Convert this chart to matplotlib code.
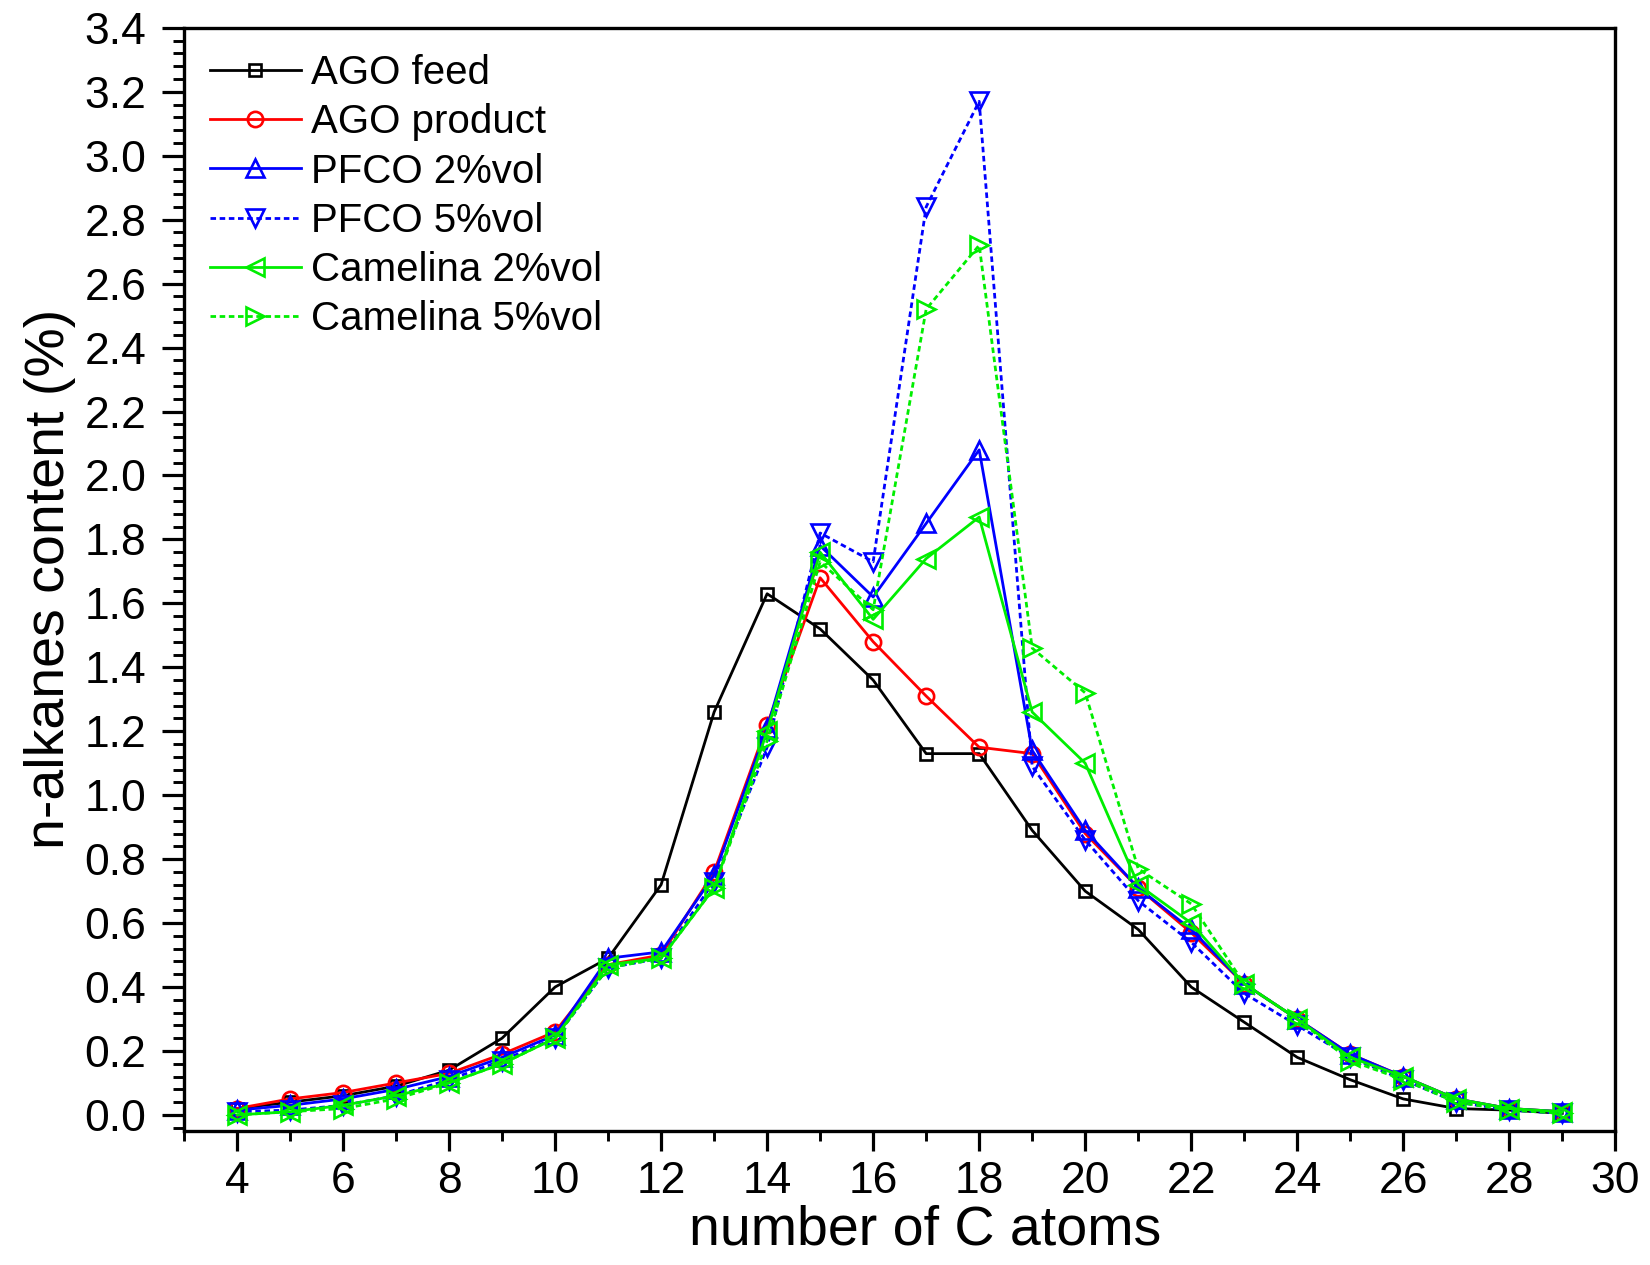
import matplotlib
matplotlib.use("Agg")
import matplotlib.pyplot as plt
from matplotlib.ticker import MultipleLocator, FormatStrFormatter

carbon = list(range(4, 30))

ago_feed = [0.02, 0.04, 0.06, 0.09, 0.14, 0.24, 0.40, 0.49, 0.72, 1.26, 1.63, 1.52, 1.36,
            1.13, 1.13, 0.89, 0.70, 0.58, 0.40, 0.29, 0.18, 0.11, 0.05, 0.02, 0.015, 0.005]
ago_product = [0.02, 0.05, 0.07, 0.10, 0.13, 0.19, 0.26, 0.47, 0.50, 0.76, 1.22, 1.68, 1.48,
               1.31, 1.15, 1.13, 0.88, 0.71, 0.57, 0.41, 0.30, 0.19, 0.12, 0.05, 0.02, 0.01]
pfco_2 = [0.015, 0.03, 0.05, 0.08, 0.12, 0.18, 0.25, 0.49, 0.51, 0.75, 1.21, 1.78, 1.62,
          1.85, 2.08, 1.14, 0.89, 0.71, 0.58, 0.41, 0.30, 0.19, 0.12, 0.05, 0.02, 0.01]
pfco_5 = [0.01, 0.015, 0.03, 0.06, 0.11, 0.17, 0.24, 0.46, 0.49, 0.73, 1.15, 1.82, 1.73,
          2.84, 3.17, 1.09, 0.86, 0.67, 0.54, 0.38, 0.28, 0.18, 0.11, 0.04, 0.015, 0.005]
camelina_2 = [0.0, 0.01, 0.03, 0.06, 0.10, 0.16, 0.24, 0.47, 0.49, 0.71, 1.20, 1.76, 1.55,
              1.74, 1.87, 1.26, 1.10, 0.72, 0.60, 0.41, 0.30, 0.18, 0.12, 0.05, 0.02, 0.01]
camelina_5 = [0.0, 0.01, 0.02, 0.05, 0.10, 0.16, 0.24, 0.46, 0.49, 0.71, 1.17, 1.73, 1.58,
              2.52, 2.72, 1.46, 1.32, 0.77, 0.66, 0.41, 0.30, 0.17, 0.11, 0.04, 0.015, 0.005]

labels = ["AGO feed", "AGO product", "PFCO 2%vol", "PFCO 5%vol",
          "Camelina 2%vol", "Camelina 5%vol"]

plt.rcParams['font.family'] = ['Liberation Sans', 'DejaVu Sans']

fig = plt.figure(figsize=(16.5, 12.65), dpi=100)
ax = fig.add_axes([0.1115, 0.106, 0.8675, 0.872])

lw = 2.0
mew = 1.9
dash = (2.0, 1.3)
series = [
    (ago_feed, "#000000", "s", "-", 9),
    (ago_product, "#ff0000", "o", "-", 11),
    (pfco_2, "#0000ff", "^", "-", 13.5),
    (pfco_5, "#0000ff", "v", "--", 13.5),
    (camelina_2, "#00ee00", "<", "-", 13.5),
    (camelina_5, "#00ee00", ">", "--", 13.5),
]
for (vals, col, mk, ls, ms), lab in zip(series, labels):
    line, = ax.plot(carbon, vals, color=col, marker=mk, linestyle=ls, linewidth=lw,
                    markersize=ms, markerfacecolor='none', markeredgecolor=col,
                    markeredgewidth=mew, label=lab)
    if ls == "--":
        line.set_dashes(dash)

ax.set_xlim(3, 30)
ax.set_ylim(-0.05, 3.4)
ax.xaxis.set_major_locator(MultipleLocator(2))
ax.xaxis.set_minor_locator(MultipleLocator(1))
ax.yaxis.set_major_locator(MultipleLocator(0.2))
ax.yaxis.set_minor_locator(MultipleLocator(0.04))
ax.yaxis.set_major_formatter(FormatStrFormatter('%.1f'))
ax.xaxis.set_major_formatter(FormatStrFormatter('%d'))

for s in ax.spines.values():
    s.set_linewidth(2.4)
ax.tick_params(axis='x', which='major', direction='out', length=14.5, width=2.3,
               labelsize=32, pad=7)
ax.tick_params(axis='y', which='major', direction='out', length=16, width=2.3,
               labelsize=32, pad=11)
ax.tick_params(axis='x', which='minor', direction='out', length=7.5, width=2.1)
ax.tick_params(axis='y', which='minor', direction='out', length=8, width=2.1)
ax.tick_params(top=False, right=False)

ax.set_xlabel("number of C atoms", fontsize=40, labelpad=2, x=0.5175)
ax.set_ylabel("n-alkanes content (%)", fontsize=40, labelpad=6)

leg = ax.legend(loc='upper left', frameon=False, fontsize=29, numpoints=1,
                handlelength=2.25, handletextpad=0.25, labelspacing=0.28,
                borderaxespad=0.3, borderpad=0.35)

fig.savefig("out.png", dpi=100)
